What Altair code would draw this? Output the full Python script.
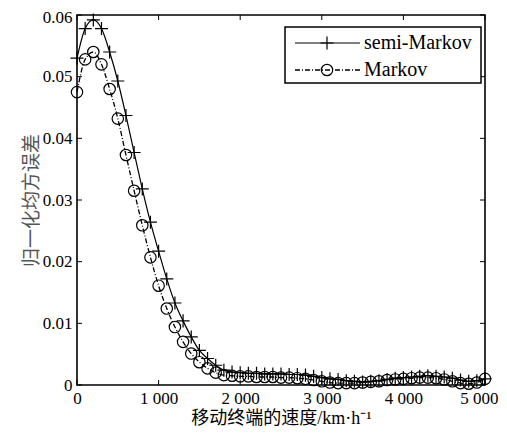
import altair as alt
import pandas as pd

# ---------------- data ----------------
speed = list(range(0, 5001, 100))

semi_markov = [
    0.0530, 0.0578, 0.0592, 0.0578, 0.0540, 0.0493, 0.0437, 0.0377, 0.0318, 0.0264,
    0.0217, 0.0172, 0.0133, 0.0104, 0.0078, 0.0056, 0.0043, 0.0032, 0.0024, 0.0021,
    0.0020, 0.0019, 0.0019, 0.0018, 0.0018, 0.0018, 0.0017, 0.0017, 0.0016, 0.0014,
    0.0012, 0.0010, 0.0009, 0.0007, 0.0006, 0.0005, 0.0006, 0.0007, 0.0009, 0.0011,
    0.0012, 0.0013, 0.0014, 0.0015, 0.0014, 0.0013, 0.0011, 0.0008, 0.0006, 0.0007,
    0.0010,
]

markov = [
    0.0475, 0.0528, 0.0540, 0.0520, 0.0480, 0.0432, 0.0373, 0.0315, 0.0259, 0.0207,
    0.0161, 0.0124, 0.0094, 0.0070, 0.0051, 0.0037, 0.0027, 0.0020, 0.0016, 0.0015,
    0.0014, 0.0014, 0.0013, 0.0013, 0.0013, 0.0012, 0.0012, 0.0011, 0.0010, 0.0008,
    0.0006, 0.0004, 0.0003, 0.0003, 0.0003, 0.0004, 0.0005, 0.0006, 0.0008, 0.0009,
    0.0010, 0.0011, 0.0012, 0.0012, 0.0011, 0.0009, 0.0006, 0.0003, 0.0002, 0.0004,
    0.0010,
]

x_ticks = [0, 1000, 2000, 3000, 4000, 5000]
y_ticks = [0.0, 0.01, 0.02, 0.03, 0.04, 0.05, 0.06]

series_names = ["semi-Markov", "Markov"]
x_title = "移动终端的速度/km·h⁻¹"
y_title = "归一化均方误差"

# ---------------- chart ----------------
W, H = 408, 370
FONT = "Liberation Serif, Noto Sans CJK SC"
PLUS = "M-1,0H1M0,-1V1"

df = pd.DataFrame({"speed": speed, "semi": semi_markov, "markov": markov})
xt = pd.DataFrame({"speed": x_ticks})
yt = pd.DataFrame({"v": y_ticks})
one = pd.DataFrame({"k": [0]})

xs = alt.Scale(domain=[0, 5000], nice=False)
ys = alt.Scale(domain=[0, 0.06], nice=False)

x_axis = alt.Axis(
    values=x_ticks,
    labelExpr="datum.value == 0 ? '0' : floor(datum.value / 1000) + ' 000'",
    ticks=False, domain=False, grid=False, labelFlush=False,
    labelAlign={"condition": {"test": "datum.value >= 5000", "value": "right"}, "value": "center"},
    labelOffset={"condition": {"test": "datum.value >= 5000", "value": 13}, "value": 0},
    labelFont=FONT, labelFontSize=17, labelColor="black", labelPadding=5,
    title=x_title, titleFont=FONT, titleFontSize=18, titleFontWeight="normal",
    titleColor="black", titlePadding=3,
)
y_axis = alt.Axis(
    values=y_ticks,
    labelExpr="datum.value == 0 ? '0' : format(datum.value, '.2f')",
    ticks=False, domain=False, grid=False,
    labelOffset={"condition": {"test": "datum.value >= 0.06", "value": 2.5}, "value": 0},
    labelFont=FONT, labelFontSize=17, labelColor="black", labelPadding=5,
    title=y_title, titleFont=FONT, titleFontSize=19, titleFontWeight="normal",
    titleColor="#555555", titlePadding=1,
)


def X(field):
    return alt.X(field, type="quantitative", scale=xs, axis=x_axis, title=x_title)


def Y(field):
    return alt.Y(field, type="quantitative", scale=ys, axis=y_axis, title=y_title)


base = alt.Chart(df)

semi_line = base.mark_line(color="black", strokeWidth=1.2, interpolate="monotone").encode(
    x=X("speed"), y=Y("semi"))
semi_pts = base.mark_point(shape=PLUS, size=170, color="black", strokeWidth=1.2, filled=False, opacity=1).encode(
    x=X("speed"), y=Y("semi"))
markov_line = base.mark_line(color="black", strokeWidth=1.3, strokeDash=[5, 2, 1, 2], interpolate="monotone").encode(
    x=X("speed"), y=Y("markov"))
markov_pts = base.mark_point(shape="circle", size=130, color="black", strokeWidth=1.2, filled=False, opacity=1).encode(
    x=X("speed"), y=Y("markov"))

# inward ticks (MATLAB style box)
TL = 5
tick_style = dict(color="black", strokeWidth=1)
xb = alt.Chart(xt).mark_rule(**tick_style).encode(
    x=X("speed"), y=alt.value(H), y2=alt.value(H - TL))
xtp = alt.Chart(xt).mark_rule(**tick_style).encode(
    x=X("speed"), y=alt.value(0), y2=alt.value(TL))
yl = alt.Chart(yt).mark_rule(**tick_style).encode(
    y=Y("v"), x=alt.value(0), x2=alt.value(TL))
yr = alt.Chart(yt).mark_rule(**tick_style).encode(
    y=Y("v"), x=alt.value(W), x2=alt.value(W - TL))

# legend box
LX0, LX1, LY0, LY1 = 208, 404, 12, 68
R1, R2 = 28, 55
SX0, SX1, SXM, TX = 218, 283, 250, 287
leg_box = alt.Chart(one).mark_rect(fill="white", stroke="black", strokeWidth=1.5).encode(
    x=alt.value(LX0), x2=alt.value(LX1), y=alt.value(LY0), y2=alt.value(LY1))
leg_l1 = alt.Chart(one).mark_rule(color="black", strokeWidth=1.2).encode(
    x=alt.value(SX0), x2=alt.value(SX1), y=alt.value(R1))
leg_m1 = alt.Chart(one).mark_point(shape=PLUS, size=170, color="black", strokeWidth=1.2, filled=False, opacity=1).encode(
    x=alt.value(SXM), y=alt.value(R1))
leg_l2 = alt.Chart(one).mark_rule(color="black", strokeWidth=1.3, strokeDash=[5, 2, 1, 2]).encode(
    x=alt.value(SX0), x2=alt.value(SX1), y=alt.value(R2))
leg_m2 = alt.Chart(one).mark_point(shape="circle", size=130, color="black", strokeWidth=1.2, filled=False, opacity=1).encode(
    x=alt.value(SXM), y=alt.value(R2))
leg_t1 = alt.Chart(one).mark_text(align="left", baseline="middle", font=FONT, fontSize=20, color="black").encode(
    x=alt.value(TX), y=alt.value(R1), text=alt.value(series_names[0]))
leg_t2 = alt.Chart(one).mark_text(align="left", baseline="middle", font=FONT, fontSize=20, color="black").encode(
    x=alt.value(TX), y=alt.value(R2), text=alt.value(series_names[1]))

chart = alt.layer(
    semi_line, markov_line, markov_pts, semi_pts,
    xb, xtp, yl, yr,
    leg_box, leg_l1, leg_m1, leg_l2, leg_m2, leg_t1, leg_t2,
).properties(
    width=W, height=H,
    autosize=alt.AutoSizeParams(type="none"),
    padding={"left": 69, "top": 7, "right": 13, "bottom": 44},
    background="white",
).configure_view(stroke="black", strokeWidth=1.6)

chart.save("out.html", embed_options={"renderer": "svg", "actions": False})
